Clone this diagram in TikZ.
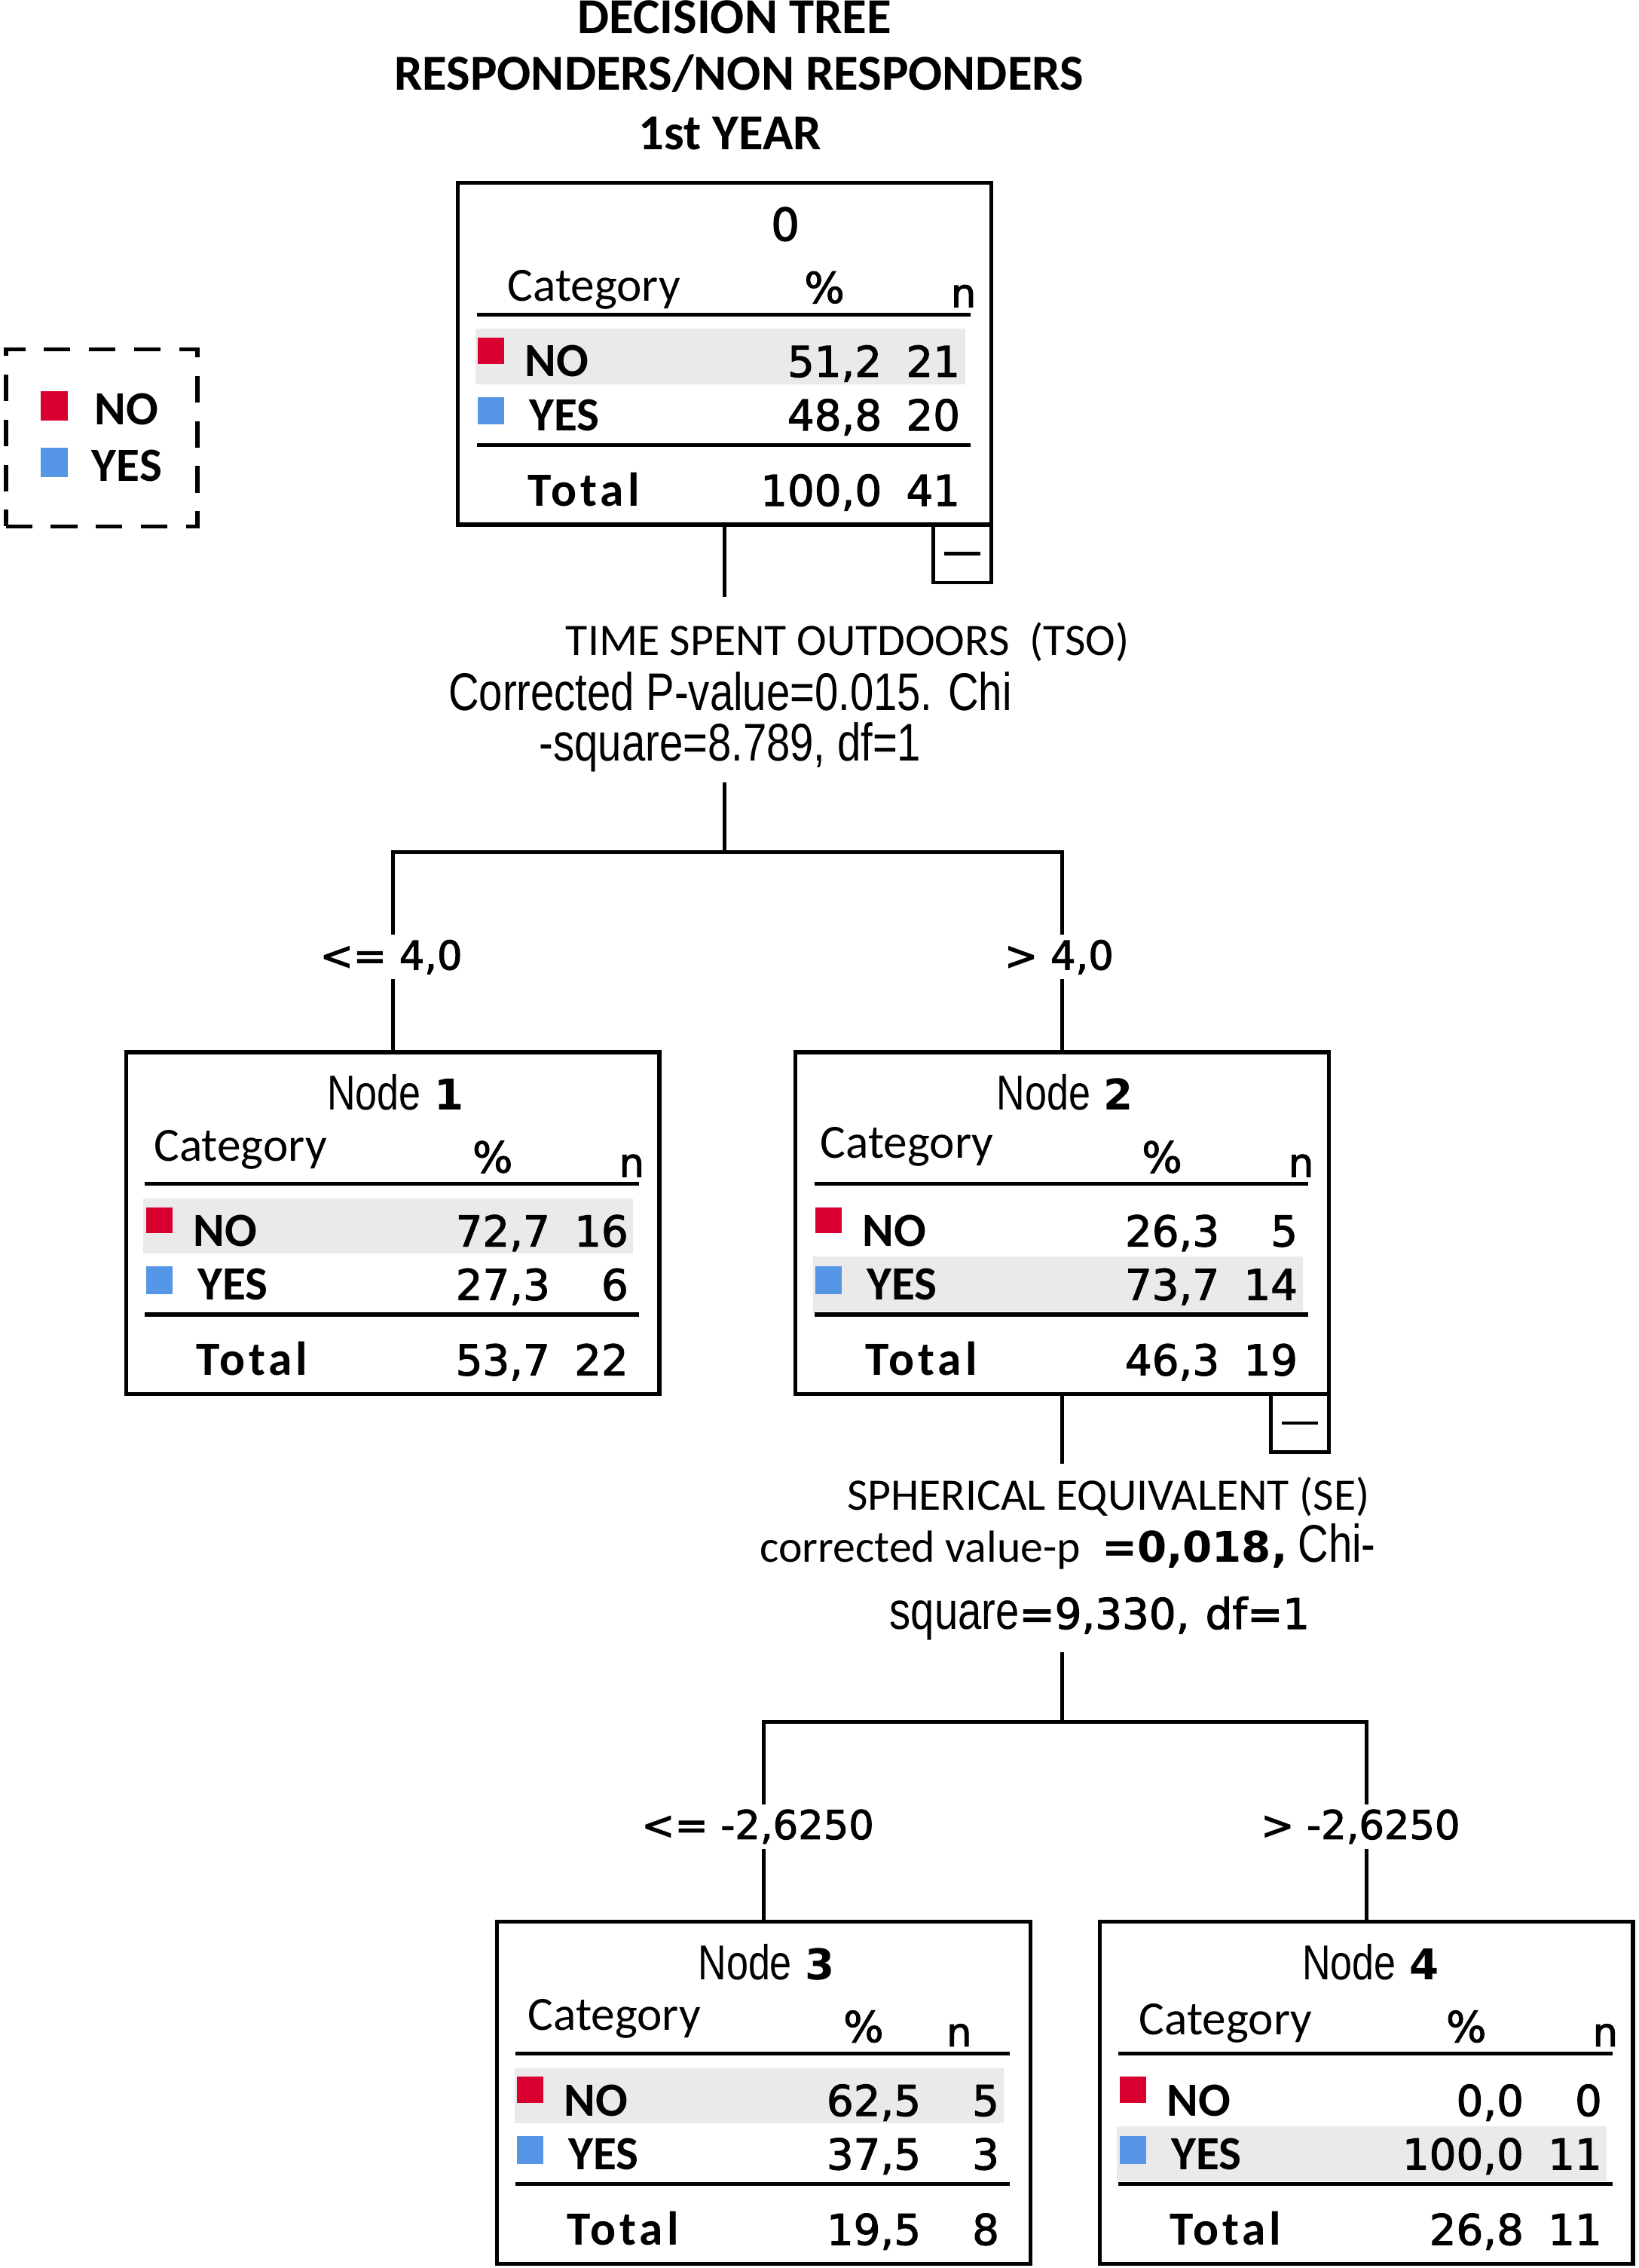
\documentclass[tikz,border=0pt]{standalone}
\usepackage{fontspec}
\newfontfamily\calfont{Carlito}
\newfontfamily\pixfont{DejaVu Sans}
\newfontfamily\numfont{DejaVu Sans}[FakeBold=2]
\newfontfamily\narrowfont{Liberation Sans}[FakeStretch=0.8]
\newcommand{\pixb}{\pixfont\bfseries}
\definecolor{catred}{RGB}{217,0,48}
\definecolor{catblue}{RGB}{85,150,230}
\definecolor{band}{RGB}{234,234,234}
% table body: #1 prefix, #2 band top, #3..#8 numbers
\newcommand{\tbody}[8]{%
  \fill[band] (12,#2) rectangle (350,#2+38);
  \draw[rowline] (13,91) -- (354,91);
  \draw[rowline] (13,181) -- (354,181);
  \fill[catred] (14,107) rectangle (32,125);
  \fill[catblue] (14,148) rectangle (32,167);
  \node[labtxt, anchor=base west] (#1no) at (46,134) {NO};
  \node[labtxt, anchor=base west] (#1yes) at (49,171) {YES};
  \node[labtxt, anchor=base west] (#1tot) at (48,223) {\addfontfeatures{LetterSpace=8}Total};
  \node[numtxt, anchor=base east] (#1pa) at (293,134) {#3};
  \node[numtxt, anchor=base east] (#1ca) at (347,134) {#4};
  \node[numtxt, anchor=base east] (#1pb) at (293,171) {#5};
  \node[numtxt, anchor=base east] (#1cb) at (347,171) {#6};
  \node[numtxt, anchor=base east] (#1pc) at (293,223) {#7};
  \node[numtxt, anchor=base east] (#1cc) at (347,223) {#8};
}
% header: #1 prefix, #2 title x, #3 title, #4 category x, #5 category baseline, #6 n x
\newcommand{\thead}[6]{%
  \node[anchor=base, inner sep=0pt] (#1title) at (#2,40) {#3};
  \node[cattxt, anchor=base west] (#1cat) at (#4,#5) {Category};
  \node[numtxt, anchor=base] (#1pct) at (253,83) {\%};
  \node[numtxt, anchor=base] (#1n) at (#6,86) {\fontsize{15pt}{18pt}\selectfont n};
}
\newcommand{\nodetitle}[1]{{\narrowfont\fontsize{18.5pt}{21pt}\selectfont Node}\hspace{5pt}{\pixb\fontsize{16pt}{19pt}\selectfont #1}}
\begin{document}
\begin{tikzpicture}[x=0.01923cm, y=-0.01923cm,
  conn/.style={line width=1.4pt},
  tbox/.style={draw, line width=1.5pt, minimum width=7.077cm, minimum height=4.538cm, inner sep=0pt, outer sep=0pt, anchor=north west},
  minusbox/.style={draw, line width=1.4pt, minimum width=0.769cm, minimum height=0.769cm, inner sep=0pt, outer sep=0pt, anchor=north east},
  rowline/.style={line width=1.5pt},
  numtxt/.style={font={\numfont\fontsize{16pt}{19pt}\selectfont}, inner sep=0pt},
  splittxt/.style={font={\numfont\fontsize{15pt}{18pt}\selectfont}, inner sep=2pt, fill=white},
  labtxt/.style={font={\calfont\bfseries\fontsize{18pt}{21pt}\selectfont}, inner sep=0pt},
  cattxt/.style={font={\calfont\fontsize{18pt}{21pt}\selectfont}, inner sep=0pt},
  titletxt/.style={font={\calfont\bfseries\fontsize{19pt}{22pt}\selectfont}, inner sep=0pt, anchor=base},
  vartxt/.style={font={\calfont\fontsize{17pt}{20pt}\selectfont}, inner sep=0pt, anchor=base},
  stattxt/.style={font={\narrowfont\fontsize{20pt}{23pt}\selectfont}, inner sep=0pt, anchor=base},
  legframe/.style={draw, line width=1.6pt, dash pattern=on 10pt off 7pt, minimum width=2.54cm, minimum height=2.35cm, inner sep=0pt, outer sep=0pt, anchor=north west}
]
\useasboundingbox (0,0) rectangle (1131,1565);
\fill[white] (0,0) rectangle (1131,1565);

% title
\node[titletxt] (t1) at (507,23) {DECISION TREE};
\node[titletxt] (t2) at (510,62) {RESPONDERS/NON RESPONDERS};
\node[titletxt] (t3) at (504,103) {1st YEAR};

% legend
\node[legframe] (legend) at (4,241) {};
\fill[catred] (28,270) rectangle (47,290);
\fill[catblue] (28,309) rectangle (47,329);
\node[labtxt, anchor=base west] (legno) at (65,293) {NO};
\node[labtxt, anchor=base west] (legyes) at (63,332) {YES};

% boxes
\node[tbox] (r) at (316,126) {};
\node[tbox] (n1) at (87,726) {};
\node[tbox] (n2) at (549,726) {};
\node[tbox] (n3) at (343,1326) {};
\node[tbox] (n4) at (759,1326) {};
\node[minusbox] (rmin) at (r.south east) {};
\node[minusbox] (n2min) at (n2.south east) {};
\draw[line width=1.3pt] ([xshift=-0.24cm]rmin.center) -- ([xshift=0.24cm]rmin.center);
\draw[line width=1.3pt] ([xshift=-0.24cm]n2min.center) -- ([xshift=0.24cm]n2min.center);

\begin{scope}[shift={(316,126)}]
  \tbody{r}{101}{51,2}{21}{48,8}{20}{100,0}{41}
  \thead{r}{226}{\numfont\fontsize{17pt}{20pt}\selectfont 0}{34}{82}{349}
\end{scope}
\begin{scope}[shift={(87,726)}]
  \tbody{a}{101}{72,7}{16}{27,3}{6}{53,7}{22}
  \thead{a}{186}{\nodetitle{1}}{19}{75}{349}
\end{scope}
\begin{scope}[shift={(549,726)}]
  \tbody{b}{141}{26,3}{5}{73,7}{14}{46,3}{19}
  \thead{b}{186}{\nodetitle{2}}{17}{73}{349}
\end{scope}
\begin{scope}[shift={(343,1326)}]
  \tbody{c}{101}{62,5}{5}{37,5}{3}{19,5}{8}
  \thead{c}{186}{\nodetitle{3}}{21}{75}{319}
\end{scope}
\begin{scope}[shift={(759,1326)}]
  \tbody{d}{141}{0,0}{0}{100,0}{11}{26,8}{11}
  \thead{d}{187}{\nodetitle{4}}{27}{78}{349}
\end{scope}

% first split
\coordinate (s1a) at (500,412);
\coordinate (s1b) at (500,540);
\coordinate (j1) at (500,588);
\draw[conn] (r.south) -- (r.south |- s1a);
\draw[conn] (s1b) -- (j1);
\draw[conn] (j1) -| (n1.north);
\draw[conn] (j1) -| (n2.north);
\node[vartxt] (tso1) at (585,452) {TIME SPENT OUTDOORS\ \ (TSO)};
\node[stattxt] (tso2) at (504,490) {Corrected P-value=0.015. Chi};
\node[stattxt] (tso3) at (504,525) {-square=8.789, df=1};
\node[splittxt, anchor=base] (l1) at (270,669) {<= 4,0};
\node[splittxt, anchor=base] (l2) at (731,669) {> 4,0};

% second split
\coordinate (s2a) at (733,1010);
\coordinate (s2b) at (733,1140);
\coordinate (j2) at (733,1188);
\draw[conn] (n2.south) -- (n2.south |- s2a);
\draw[conn] (s2b) -- (j2);
\draw[conn] (j2) -| (n3.north);
\draw[conn] (j2) -| (n4.north);
\node[vartxt] (se1) at (765,1042) {SPHERICAL EQUIVALENT (SE)};
\node[inner sep=0pt, anchor=base] (se2) at (737,1078) {{\calfont\fontsize{17pt}{20pt}\selectfont corrected value-p}\hspace{8pt}{\pixb\fontsize{16pt}{19pt}\selectfont =0,018,}\hspace{4pt}{\narrowfont\fontsize{20pt}{23pt}\selectfont Chi-}};
\node[inner sep=0pt, anchor=base] (se3) at (759,1124) {{\narrowfont\fontsize{20pt}{23pt}\selectfont square}{\numfont\fontsize{16pt}{19pt}\selectfont =9,330,\hspace{6pt}df=1}};
\node[splittxt, anchor=base] (l3) at (523,1269) {<= -2,6250};
\node[splittxt, anchor=base] (l4) at (939,1269) {> -2,6250};
\end{tikzpicture}
\end{document}
